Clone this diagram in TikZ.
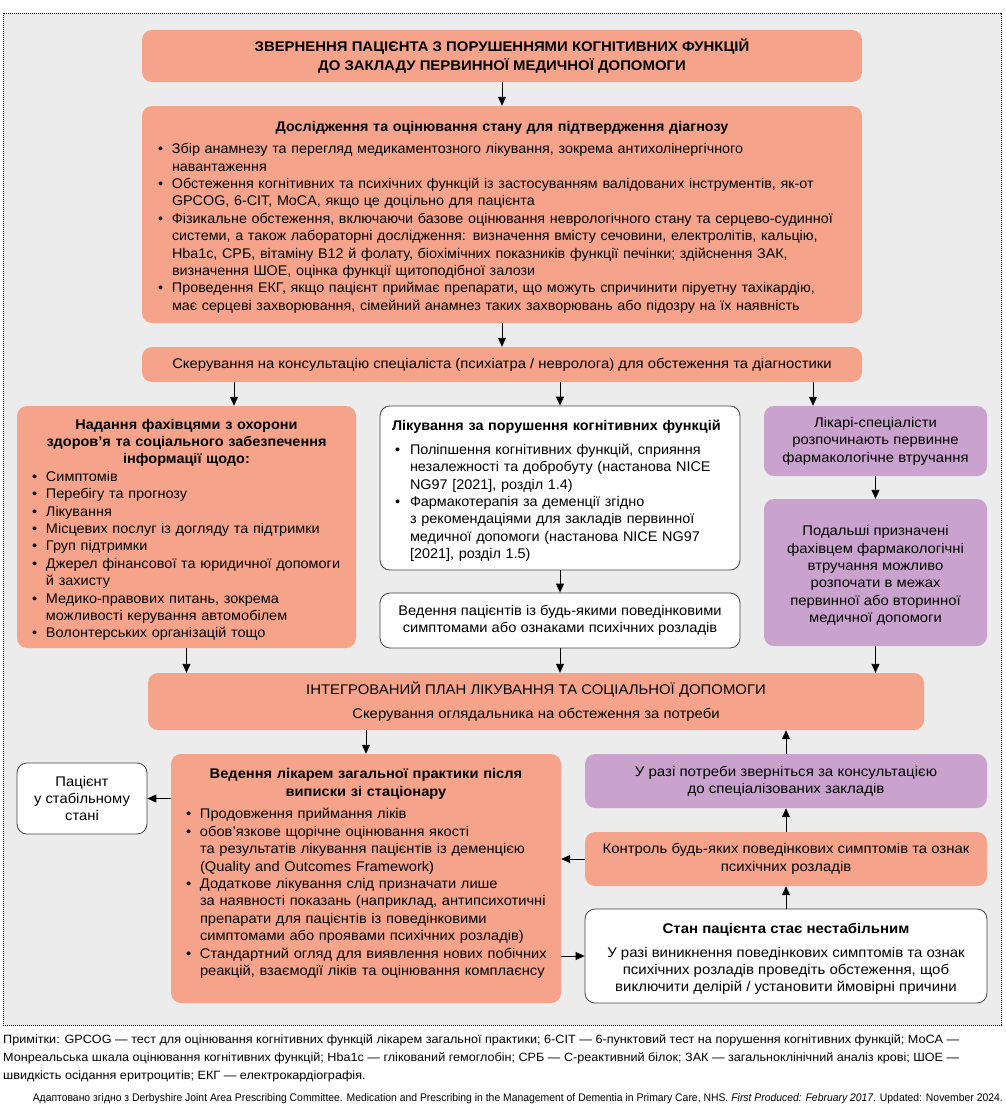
\documentclass[tikz,border=0pt]{standalone}
\usepackage{fontspec}
\setmainfont{Liberation Sans}
\usepackage{graphicx}
\usetikzlibrary{arrows.meta}
\definecolor{sal}{HTML}{F5A48B}
\definecolor{purp}{HTML}{C9A2CD}
\definecolor{bg}{HTML}{ECECEC}
\definecolor{edge}{HTML}{444444}
\newcommand\fs[1]{\fontsize{14}{17.4}\selectfont\addfontfeature{FakeStretch=#1}}
\newcommand\bitem[1]{\par\noindent\hangindent=14pt\hangafter=1\rightskip=-30pt\makebox[14pt][l]{\textbullet}#1\par}
\newcommand\bitemB[1]{\par\noindent\hangindent=18pt\hangafter=1\rightskip=-30pt\hspace*{3pt}\makebox[15pt][l]{\textbullet}#1\par}
\newcommand\tp{\rule{0pt}{16pt}}
\newlength\nA
\newcommand\noteone{Примітки: GPCOG — тест для оцінювання когнітивних функцій лікарем загальної практики; 6-CIT — 6-пунктовий тест на порушення когнітивних функцій; MoCA —}
\begin{document}
\begin{tikzpicture}[x=1pt,y=-1pt,
  base/.style={rounded corners=10pt, inner ysep=0pt, anchor=center},
  salbox/.style={base, fill=sal},
  purbox/.style={base, fill=purp},
  whbox/.style={base, fill=white, draw=edge, line width=0.8pt},
  arr/.style={-{Triangle[length=9pt,width=8pt]}, line width=0.9pt, black},
  notes/.style={anchor=west, inner sep=0pt, font=\fontsize{12}{14}\selectfont}
]
\useasboundingbox (0,0) rectangle (1005,1108);
\draw[fill=bg, line width=0.7pt, dash pattern=on 0.8pt off 1.2pt] (3,13) rectangle (1001,1025);

\node[salbox, minimum width=720pt, minimum height=52pt, align=center, font={\fontsize{14}{19}\selectfont\addfontfeature{FakeStretch=1.065}}] (b1) at (502,56)
  {\bfseries ЗВЕРНЕННЯ ПАЦІЄНТА З ПОРУШЕННЯМИ КОГНІТИВНИХ ФУНКЦІЙ\\\bfseries ДО ЗАКЛАДУ ПЕРВИННОЇ МЕДИЧНОЇ ДОПОМОГИ};

\node[salbox, minimum width=720pt, minimum height=217pt, text width=688pt, inner xsep=16pt, font=\fs{1.025}] (b2) at (502,214.5)
  {{\centering\bfseries\tp Дослідження та оцінювання стану для підтвердження діагнозу\par}\vspace{4.5pt}
  \bitem{Збір анамнезу та перегляд медикаментозного лікування, зокрема антихолінергічного\newline навантаження}
  \bitem{Обстеження когнітивних та психічних функцій із застосуванням валідованих інструментів, як-от\newline GPCOG, 6-CIT, MoCA, якщо це доцільно для пацієнта}
  \bitem{Фізикальне обстеження, включаючи базове оцінювання неврологічного стану та серцево-судинної\newline системи, а також лабораторні дослідження: визначення вмісту сечовини, електролітів, кальцію,\newline Hba1c, СРБ, вітаміну B12 й фолату, біохімічних показників функції печінки; здійснення ЗАК,\newline визначення ШОЕ, оцінка функції щитоподібної залози}
  \bitem{Проведення ЕКГ, якщо пацієнт приймає препарати, що можуть спричинити піруетну тахікардію,\newline має серцеві захворювання, сімейний анамнез таких захворювань або підозру на їх наявність}};

\node[salbox, minimum width=720pt, minimum height=35pt, font=\fs{1.06}] (b3) at (502,364.5)
  {Скерування на консультацію спеціаліста (психіатра / невролога) для обстеження та діагностики};

\node[salbox, minimum width=339pt, minimum height=242pt, text width=309pt, inner xsep=15pt, font=\fs{1.035}] (left) at (186.5,527)
  {{\centering\bfseries\tp Надання фахівцями з охорони\\здоров’я та соціального забезпечення\\інформації щодо:\par}
  \bitem{Симптомів}
  \bitem{Перебігу та прогнозу}
  \bitem{Лікування}
  \bitem{Місцевих послуг із догляду та підтримки}
  \bitem{Груп підтримки}
  \bitem{Джерел фінансової та юридичної допомоги\newline й захисту}
  \bitem{Медико-правових питань, зокрема\newline можливості керування автомобілем}
  \bitem{Волонтерських організацій тощо}};

\node[whbox, minimum width=360pt, minimum height=164pt, text width=336pt, inner xsep=12pt, font=\fs{1.03}] (mid) at (560,488)
  {{\bfseries\tp Лікування за порушення когнітивних функцій\par}\vspace{6.5pt}
  \bitemB{Поліпшення когнітивних функцій, сприяння\newline незалежності та добробуту (настанова NICE\newline NG97 [2021], розділ 1.4)}
  \bitemB{Фармакотерапія за деменції згідно\newline з рекомендаціями для закладів первинної\newline медичної допомоги (настанова NICE NG97\newline [2021], розділ 1.5)}};

\node[whbox, minimum width=360pt, minimum height=55pt, align=center, font=\fs{1.048}] (mid2) at (560,620.5)
  {Ведення пацієнтів із будь-якими поведінковими\\симптомами або ознаками психічних розладів};

\node[purbox, minimum width=223pt, minimum height=70pt, align=center, font=\fs{1.06}] (p1) at (875.5,441)
  {Лікарі-спеціалісти\\розпочинають первинне\\фармакологічне втручання};

\node[purbox, minimum width=223pt, minimum height=147pt, align=center, font=\fs{1.06}] (p2) at (875.5,572.5)
  {\tp Подальші призначені\\фахівцем фармакологічні\\втручання можливо\\розпочати в межах\\первинної або вторинної\\медичної допомоги};

\node[salbox, minimum width=776pt, minimum height=57pt, align=center, font=\fs{1.065}] (integ) at (536,701.5)
  {ІНТЕГРОВАНИЙ ПЛАН ЛІКУВАННЯ ТА СОЦІАЛЬНОЇ ДОПОМОГИ\\[6.5pt]Скерування оглядальника на обстеження за потреби};

\node[salbox, minimum width=390pt, minimum height=249pt, text width=360pt, inner xsep=15pt, font=\fs{1.048}] (gp) at (366,878.5)
  {{\centering\bfseries Ведення лікарем загальної практики після\\виписки зі стаціонару\par}\vspace{5.5pt}
  \bitem{Продовження приймання ліків}
  \bitem{обов’язкове щорічне оцінювання якості\newline та результатів лікування пацієнтів із деменцією\newline (Quality and Outcomes Framework)}
  \bitem{Додаткове лікування слід призначати лише\newline за наявності показань (наприклад, антипсихотичні\newline препарати для пацієнтів із поведінковими\newline симптомами або проявами психічних розладів)}
  \bitem{Стандартний огляд для виявлення нових побічних\newline реакцій, взаємодії ліків та оцінювання комплаєнсу}
  \vspace{10pt}\hrule height 0pt};

\node[whbox, minimum width=130pt, minimum height=71pt, align=center, font=\fs{1.055}] (stable) at (82,798.5)
  {Пацієнт\\у стабільному\\стані};

\node[purbox, minimum width=402pt, minimum height=54pt, align=center, font=\fs{1.075}] (p3) at (786,781)
  {У разі потреби зверніться за консультацією\\до спеціалізованих закладів};

\node[salbox, minimum width=402pt, minimum height=54pt, align=center, font=\fs{1.064}] (ctrl) at (786,859)
  {Контроль будь-яких поведінкових симптомів та ознак\\психічних розладів};

\node[whbox, minimum width=402pt, minimum height=94pt, align=center, font=\fs{1.07}] (unst) at (786,956)
  {\tp\bfseries Стан пацієнта стає нестабільним\\[6.5pt]У разі виникнення поведінкових симптомів та ознак\\психічних розладів проведіть обстеження, щоб\\виключити делірій / установити ймовірні причини};

\coordinate (xa) at (234,0);
\coordinate (xc) at (813,0);

\draw[arr] (b1) -- (b2);
\draw[arr] (b2) -- (b3);
\draw[arr] (b3.south -| xa) -- (left.north -| xa);
\draw[arr] (b3.south -| mid.north) -- (mid.north);
\draw[arr] (b3.south -| xc) -- (p1.north -| xc);
\draw[arr] (mid) -- (mid2);
\draw[arr] (p1) -- (p2);
\draw[arr] (left.south) -- (left.south |- integ.north);
\draw[arr] (mid2.south) -- (mid2.south |- integ.north);
\draw[arr] (p2.south) -- (p2.south |- integ.north);
\draw[arr] (integ.south -| gp.north) -- (gp.north);
\draw[arr] (gp.west |- stable.east) -- (stable.east);
\draw[arr] (p3.north) -- (p3.north |- integ.south);
\draw[arr] (ctrl) -- (p3);
\draw[arr] (unst) -- (ctrl);
\draw[arr] (ctrl.west) -- (ctrl.west -| gp.east);
\draw[arr] (gp.east |- unst.west) -- (unst.west);

\node[notes] (n1) at (3,1040) {\resizebox{956pt}{\height}{\noteone}};
\node[notes] (n2) at (3,1058) {\resizebox{956pt}{\height}{Монреальська шкала оцінювання когнітивних функцій; Hba1c — глікований гемоглобін; СРБ — С-реактивний білок; ЗАК — загальноклінічний аналіз крові; ШОЕ —}};
\node[notes] (n3) at (3,1076) {\settowidth{\nA}{\noteone}\pgfmathsetmacro\nsf{956/\nA}\scalebox{\nsf}[1]{швидкість осідання еритроцитів; ЕКГ — електрокардіографія.}};
\node[notes, anchor=east, font=\fontsize{11}{13}\selectfont] (n4) at (1003,1099) {\resizebox{970pt}{\height}{Адаптовано згідно з Derbyshire Joint Area Prescribing Committee. Medication and Prescribing in the Management of Dementia in Primary Care, NHS. \textit{First Produced: February 2017}. Updated: November 2024.}};
\end{tikzpicture}
\end{document}
